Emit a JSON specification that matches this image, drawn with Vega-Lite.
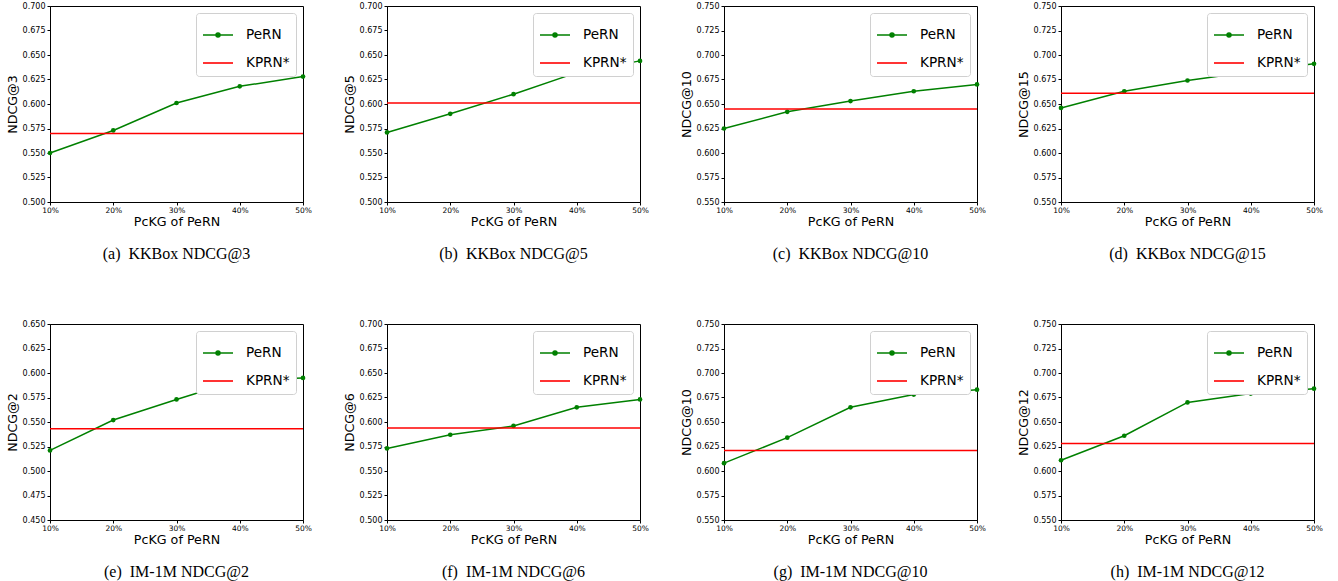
{
"$schema":"https://vega.github.io/schema/vega-lite/v6.json",
"padding":{"left":5,"top":1,"right":2,"bottom":2},
"columns":4,
"spacing":{"row":56,"column":30},
"resolve":{"scale":{"color":"independent","y":"independent","x":"independent"},"legend":{"color":"independent"}},
"config":{
 "view":{"stroke":"black","strokeWidth":1},
 "axis":{"grid":false,"domainColor":"black","tickColor":"black","labelColor":"black","titleColor":"black","labelFont":"DejaVu Sans","titleFont":"DejaVu Sans","titleFontWeight":"normal","tickSize":3},
 "axisX":{"labelFontSize":7.5,"titleFontSize":12.7,"labelPadding":1,"titlePadding":2,"labelFlush":false},
 "axisY":{"labelFontSize":8,"titleFontSize":12.7,"labelPadding":2,"titlePadding":3},
 "legend":{"orient":"top-right","offset":7,"labelFont":"DejaVu Sans","labelFontSize":13.6,"labelColor":"black","symbolType":"stroke","symbolSize":900,"symbolStrokeWidth":1.6,"strokeColor":"#d0d0d0","fillColor":"white","padding":6,"cornerRadius":3,"rowPadding":5,"labelOffset":12},
 "title":{"font":"Liberation Serif","fontSize":16,"fontWeight":"normal","orient":"bottom","offset":18,"color":"black"}
},
"concat":[
{"width":253,"height":196,"title":{"text":"(a)\u00a0\u00a0KKBox NDCG@3"},
 "data":{"values":[{"x":10,"v":0.550,"s":"PeRN"},{"x":20,"v":0.573,"s":"PeRN"},{"x":30,"v":0.601,"s":"PeRN"},{"x":40,"v":0.618,"s":"PeRN"},{"x":50,"v":0.628,"s":"PeRN"},{"v":0.570,"s":"KPRN*"}]},
 "encoding":{"y":{"field":"v","type":"quantitative","scale":{"domain":[0.5,0.7],"nice":false,"zero":false},"axis":{"values":[0.5,0.525,0.55,0.575,0.6,0.625,0.65,0.675,0.7],"format":".3f","title":"NDCG@3"}},
  "color":{"field":"s","type":"nominal","scale":{"domain":["PeRN","KPRN*"],"range":["green","red"]},"legend":{"title":null,"encode":{"symbols":{"update":{"shape":{"signal":"datum.value === 'PeRN' ? 'M-1,0L1,0M-0.13,0A0.13,0.13 0 1,0 0.13,0A0.13,0.13 0 1,0 -0.13,0' : 'M-1,0L1,0'"},"fill":{"signal":"datum.value === 'PeRN' ? 'green' : 'red'"}}}}}}},
 "layer":[
  {"transform":[{"filter":"datum.s === 'PeRN'"}],"mark":{"type":"line","strokeWidth":1.5},"encoding":{"x":{"field":"x","type":"quantitative","scale":{"domain":[10,50],"nice":false},"axis":{"values":[10,20,30,40,50],"labelExpr":"datum.value + '%'","title":"PcKG of PeRN"}}}},
  {"transform":[{"filter":"datum.s === 'PeRN'"}],"mark":{"type":"point","filled":true,"size":22,"opacity":1},"encoding":{"x":{"field":"x","type":"quantitative"}}},
  {"transform":[{"filter":"datum.s === 'KPRN*'"}],"mark":{"type":"rule","strokeWidth":1.5},"encoding":{}}
 ]},
{"width":253,"height":196,"title":{"text":"(b)\u00a0\u00a0KKBox NDCG@5"},
 "data":{"values":[{"x":10,"v":0.571,"s":"PeRN"},{"x":20,"v":0.590,"s":"PeRN"},{"x":30,"v":0.610,"s":"PeRN"},{"x":40,"v":0.632,"s":"PeRN"},{"x":50,"v":0.644,"s":"PeRN"},{"v":0.601,"s":"KPRN*"}]},
 "encoding":{"y":{"field":"v","type":"quantitative","scale":{"domain":[0.5,0.7],"nice":false,"zero":false},"axis":{"values":[0.5,0.525,0.55,0.575,0.6,0.625,0.65,0.675,0.7],"format":".3f","title":"NDCG@5"}},
  "color":{"field":"s","type":"nominal","scale":{"domain":["PeRN","KPRN*"],"range":["green","red"]},"legend":{"title":null,"encode":{"symbols":{"update":{"shape":{"signal":"datum.value === 'PeRN' ? 'M-1,0L1,0M-0.13,0A0.13,0.13 0 1,0 0.13,0A0.13,0.13 0 1,0 -0.13,0' : 'M-1,0L1,0'"},"fill":{"signal":"datum.value === 'PeRN' ? 'green' : 'red'"}}}}}}},
 "layer":[
  {"transform":[{"filter":"datum.s === 'PeRN'"}],"mark":{"type":"line","strokeWidth":1.5},"encoding":{"x":{"field":"x","type":"quantitative","scale":{"domain":[10,50],"nice":false},"axis":{"values":[10,20,30,40,50],"labelExpr":"datum.value + '%'","title":"PcKG of PeRN"}}}},
  {"transform":[{"filter":"datum.s === 'PeRN'"}],"mark":{"type":"point","filled":true,"size":22,"opacity":1},"encoding":{"x":{"field":"x","type":"quantitative"}}},
  {"transform":[{"filter":"datum.s === 'KPRN*'"}],"mark":{"type":"rule","strokeWidth":1.5},"encoding":{}}
 ]},
{"width":253,"height":196,"title":{"text":"(c)\u00a0\u00a0KKBox NDCG@10"},
 "data":{"values":[{"x":10,"v":0.625,"s":"PeRN"},{"x":20,"v":0.642,"s":"PeRN"},{"x":30,"v":0.653,"s":"PeRN"},{"x":40,"v":0.663,"s":"PeRN"},{"x":50,"v":0.670,"s":"PeRN"},{"v":0.645,"s":"KPRN*"}]},
 "encoding":{"y":{"field":"v","type":"quantitative","scale":{"domain":[0.55,0.75],"nice":false,"zero":false},"axis":{"values":[0.55,0.575,0.6,0.625,0.65,0.675,0.7,0.725,0.75],"format":".3f","title":"NDCG@10"}},
  "color":{"field":"s","type":"nominal","scale":{"domain":["PeRN","KPRN*"],"range":["green","red"]},"legend":{"title":null,"encode":{"symbols":{"update":{"shape":{"signal":"datum.value === 'PeRN' ? 'M-1,0L1,0M-0.13,0A0.13,0.13 0 1,0 0.13,0A0.13,0.13 0 1,0 -0.13,0' : 'M-1,0L1,0'"},"fill":{"signal":"datum.value === 'PeRN' ? 'green' : 'red'"}}}}}}},
 "layer":[
  {"transform":[{"filter":"datum.s === 'PeRN'"}],"mark":{"type":"line","strokeWidth":1.5},"encoding":{"x":{"field":"x","type":"quantitative","scale":{"domain":[10,50],"nice":false},"axis":{"values":[10,20,30,40,50],"labelExpr":"datum.value + '%'","title":"PcKG of PeRN"}}}},
  {"transform":[{"filter":"datum.s === 'PeRN'"}],"mark":{"type":"point","filled":true,"size":22,"opacity":1},"encoding":{"x":{"field":"x","type":"quantitative"}}},
  {"transform":[{"filter":"datum.s === 'KPRN*'"}],"mark":{"type":"rule","strokeWidth":1.5},"encoding":{}}
 ]},
{"width":253,"height":196,"title":{"text":"(d)\u00a0\u00a0KKBox NDCG@15"},
 "data":{"values":[{"x":10,"v":0.646,"s":"PeRN"},{"x":20,"v":0.663,"s":"PeRN"},{"x":30,"v":0.674,"s":"PeRN"},{"x":40,"v":0.683,"s":"PeRN"},{"x":50,"v":0.691,"s":"PeRN"},{"v":0.661,"s":"KPRN*"}]},
 "encoding":{"y":{"field":"v","type":"quantitative","scale":{"domain":[0.55,0.75],"nice":false,"zero":false},"axis":{"values":[0.55,0.575,0.6,0.625,0.65,0.675,0.7,0.725,0.75],"format":".3f","title":"NDCG@15"}},
  "color":{"field":"s","type":"nominal","scale":{"domain":["PeRN","KPRN*"],"range":["green","red"]},"legend":{"title":null,"encode":{"symbols":{"update":{"shape":{"signal":"datum.value === 'PeRN' ? 'M-1,0L1,0M-0.13,0A0.13,0.13 0 1,0 0.13,0A0.13,0.13 0 1,0 -0.13,0' : 'M-1,0L1,0'"},"fill":{"signal":"datum.value === 'PeRN' ? 'green' : 'red'"}}}}}}},
 "layer":[
  {"transform":[{"filter":"datum.s === 'PeRN'"}],"mark":{"type":"line","strokeWidth":1.5},"encoding":{"x":{"field":"x","type":"quantitative","scale":{"domain":[10,50],"nice":false},"axis":{"values":[10,20,30,40,50],"labelExpr":"datum.value + '%'","title":"PcKG of PeRN"}}}},
  {"transform":[{"filter":"datum.s === 'PeRN'"}],"mark":{"type":"point","filled":true,"size":22,"opacity":1},"encoding":{"x":{"field":"x","type":"quantitative"}}},
  {"transform":[{"filter":"datum.s === 'KPRN*'"}],"mark":{"type":"rule","strokeWidth":1.5},"encoding":{}}
 ]},
{"width":253,"height":196,"title":{"text":"(e)\u00a0\u00a0IM-1M NDCG@2"},
 "data":{"values":[{"x":10,"v":0.521,"s":"PeRN"},{"x":20,"v":0.552,"s":"PeRN"},{"x":30,"v":0.573,"s":"PeRN"},{"x":40,"v":0.593,"s":"PeRN"},{"x":50,"v":0.595,"s":"PeRN"},{"v":0.543,"s":"KPRN*"}]},
 "encoding":{"y":{"field":"v","type":"quantitative","scale":{"domain":[0.45,0.65],"nice":false,"zero":false},"axis":{"values":[0.45,0.475,0.5,0.525,0.55,0.575,0.6,0.625,0.65],"format":".3f","title":"NDCG@2"}},
  "color":{"field":"s","type":"nominal","scale":{"domain":["PeRN","KPRN*"],"range":["green","red"]},"legend":{"title":null,"encode":{"symbols":{"update":{"shape":{"signal":"datum.value === 'PeRN' ? 'M-1,0L1,0M-0.13,0A0.13,0.13 0 1,0 0.13,0A0.13,0.13 0 1,0 -0.13,0' : 'M-1,0L1,0'"},"fill":{"signal":"datum.value === 'PeRN' ? 'green' : 'red'"}}}}}}},
 "layer":[
  {"transform":[{"filter":"datum.s === 'PeRN'"}],"mark":{"type":"line","strokeWidth":1.5},"encoding":{"x":{"field":"x","type":"quantitative","scale":{"domain":[10,50],"nice":false},"axis":{"values":[10,20,30,40,50],"labelExpr":"datum.value + '%'","title":"PcKG of PeRN"}}}},
  {"transform":[{"filter":"datum.s === 'PeRN'"}],"mark":{"type":"point","filled":true,"size":22,"opacity":1},"encoding":{"x":{"field":"x","type":"quantitative"}}},
  {"transform":[{"filter":"datum.s === 'KPRN*'"}],"mark":{"type":"rule","strokeWidth":1.5},"encoding":{}}
 ]},
{"width":253,"height":196,"title":{"text":"(f)\u00a0\u00a0IM-1M NDCG@6"},
 "data":{"values":[{"x":10,"v":0.573,"s":"PeRN"},{"x":20,"v":0.587,"s":"PeRN"},{"x":30,"v":0.596,"s":"PeRN"},{"x":40,"v":0.615,"s":"PeRN"},{"x":50,"v":0.623,"s":"PeRN"},{"v":0.594,"s":"KPRN*"}]},
 "encoding":{"y":{"field":"v","type":"quantitative","scale":{"domain":[0.5,0.7],"nice":false,"zero":false},"axis":{"values":[0.5,0.525,0.55,0.575,0.6,0.625,0.65,0.675,0.7],"format":".3f","title":"NDCG@6"}},
  "color":{"field":"s","type":"nominal","scale":{"domain":["PeRN","KPRN*"],"range":["green","red"]},"legend":{"title":null,"encode":{"symbols":{"update":{"shape":{"signal":"datum.value === 'PeRN' ? 'M-1,0L1,0M-0.13,0A0.13,0.13 0 1,0 0.13,0A0.13,0.13 0 1,0 -0.13,0' : 'M-1,0L1,0'"},"fill":{"signal":"datum.value === 'PeRN' ? 'green' : 'red'"}}}}}}},
 "layer":[
  {"transform":[{"filter":"datum.s === 'PeRN'"}],"mark":{"type":"line","strokeWidth":1.5},"encoding":{"x":{"field":"x","type":"quantitative","scale":{"domain":[10,50],"nice":false},"axis":{"values":[10,20,30,40,50],"labelExpr":"datum.value + '%'","title":"PcKG of PeRN"}}}},
  {"transform":[{"filter":"datum.s === 'PeRN'"}],"mark":{"type":"point","filled":true,"size":22,"opacity":1},"encoding":{"x":{"field":"x","type":"quantitative"}}},
  {"transform":[{"filter":"datum.s === 'KPRN*'"}],"mark":{"type":"rule","strokeWidth":1.5},"encoding":{}}
 ]},
{"width":253,"height":196,"title":{"text":"(g)\u00a0\u00a0IM-1M NDCG@10"},
 "data":{"values":[{"x":10,"v":0.608,"s":"PeRN"},{"x":20,"v":0.634,"s":"PeRN"},{"x":30,"v":0.665,"s":"PeRN"},{"x":40,"v":0.678,"s":"PeRN"},{"x":50,"v":0.683,"s":"PeRN"},{"v":0.621,"s":"KPRN*"}]},
 "encoding":{"y":{"field":"v","type":"quantitative","scale":{"domain":[0.55,0.75],"nice":false,"zero":false},"axis":{"values":[0.55,0.575,0.6,0.625,0.65,0.675,0.7,0.725,0.75],"format":".3f","title":"NDCG@10"}},
  "color":{"field":"s","type":"nominal","scale":{"domain":["PeRN","KPRN*"],"range":["green","red"]},"legend":{"title":null,"encode":{"symbols":{"update":{"shape":{"signal":"datum.value === 'PeRN' ? 'M-1,0L1,0M-0.13,0A0.13,0.13 0 1,0 0.13,0A0.13,0.13 0 1,0 -0.13,0' : 'M-1,0L1,0'"},"fill":{"signal":"datum.value === 'PeRN' ? 'green' : 'red'"}}}}}}},
 "layer":[
  {"transform":[{"filter":"datum.s === 'PeRN'"}],"mark":{"type":"line","strokeWidth":1.5},"encoding":{"x":{"field":"x","type":"quantitative","scale":{"domain":[10,50],"nice":false},"axis":{"values":[10,20,30,40,50],"labelExpr":"datum.value + '%'","title":"PcKG of PeRN"}}}},
  {"transform":[{"filter":"datum.s === 'PeRN'"}],"mark":{"type":"point","filled":true,"size":22,"opacity":1},"encoding":{"x":{"field":"x","type":"quantitative"}}},
  {"transform":[{"filter":"datum.s === 'KPRN*'"}],"mark":{"type":"rule","strokeWidth":1.5},"encoding":{}}
 ]},
{"width":253,"height":196,"title":{"text":"(h)\u00a0\u00a0IM-1M NDCG@12"},
 "data":{"values":[{"x":10,"v":0.611,"s":"PeRN"},{"x":20,"v":0.636,"s":"PeRN"},{"x":30,"v":0.670,"s":"PeRN"},{"x":40,"v":0.679,"s":"PeRN"},{"x":50,"v":0.684,"s":"PeRN"},{"v":0.628,"s":"KPRN*"}]},
 "encoding":{"y":{"field":"v","type":"quantitative","scale":{"domain":[0.55,0.75],"nice":false,"zero":false},"axis":{"values":[0.55,0.575,0.6,0.625,0.65,0.675,0.7,0.725,0.75],"format":".3f","title":"NDCG@12"}},
  "color":{"field":"s","type":"nominal","scale":{"domain":["PeRN","KPRN*"],"range":["green","red"]},"legend":{"title":null,"encode":{"symbols":{"update":{"shape":{"signal":"datum.value === 'PeRN' ? 'M-1,0L1,0M-0.13,0A0.13,0.13 0 1,0 0.13,0A0.13,0.13 0 1,0 -0.13,0' : 'M-1,0L1,0'"},"fill":{"signal":"datum.value === 'PeRN' ? 'green' : 'red'"}}}}}}},
 "layer":[
  {"transform":[{"filter":"datum.s === 'PeRN'"}],"mark":{"type":"line","strokeWidth":1.5},"encoding":{"x":{"field":"x","type":"quantitative","scale":{"domain":[10,50],"nice":false},"axis":{"values":[10,20,30,40,50],"labelExpr":"datum.value + '%'","title":"PcKG of PeRN"}}}},
  {"transform":[{"filter":"datum.s === 'PeRN'"}],"mark":{"type":"point","filled":true,"size":22,"opacity":1},"encoding":{"x":{"field":"x","type":"quantitative"}}},
  {"transform":[{"filter":"datum.s === 'KPRN*'"}],"mark":{"type":"rule","strokeWidth":1.5},"encoding":{}}
 ]}
]
}
